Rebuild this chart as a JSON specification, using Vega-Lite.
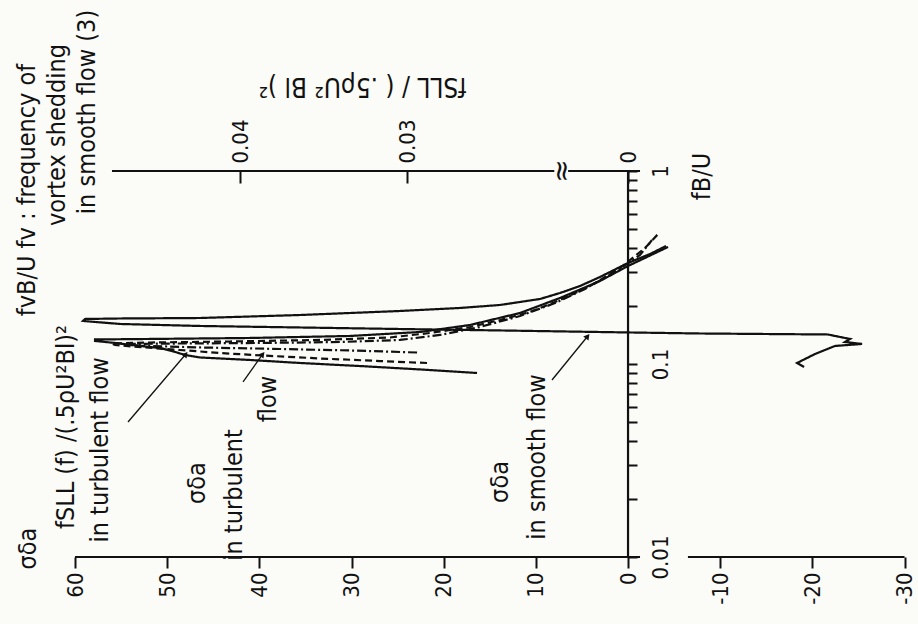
{
  "$schema": "https://vega.github.io/schema/vega-lite/v6.json",
  "width": 918,
  "height": 557,
  "autosize": {"type": "none"},
  "padding": {"left": 0, "top": 0, "right": 0, "bottom": 67},
  "background": "#fbfbf8",
  "config": {
    "view": {"stroke": null},
    "font": "DejaVu Sans Condensed",
    "axis": {
      "grid": false, "domain": false, "labelOverlap": false, "labelFlush": false, "labelBound": false,
      "tickColor": "#111", "labelColor": "#111", "titleColor": "#111", "tickWidth": 2,
      "labelFontSize": 22, "titleFontSize": 25, "titleFontWeight": "normal", "labelFont": "DejaVu Sans Condensed", "titleFont": "DejaVu Sans Condensed"
    }
  },
  "datasets": {
    "curves": [
      {"s":"smooth","i":1,"v":-19.10,"f":0.0965},{"s":"smooth","i":2,"v":-18.34,"f":0.1012},{"s":"smooth","i":3,"v":-19.20,"f":0.1061},{"s":"smooth","i":4,"v":-20.29,"f":0.1127},{"s":"smooth","i":5,"v":-21.37,"f":0.1182},{"s":"smooth","i":6,"v":-22.46,"f":0.1240},{"s":"smooth","i":7,"v":-25.39,"f":0.1270},{"s":"smooth","i":8,"v":-23.54,"f":0.1300},{"s":"smooth","i":9,"v":-24.09,"f":0.1348},{"s":"smooth","i":10,"v":-22.46,"f":0.1397},{"s":"smooth","i":11,"v":-21.70,"f":0.1422},{"s":"smooth","i":12,"v":-7.81,"f":0.1439},{"s":"smooth","i":13,"v":0,"f":0.1457},{"s":"smooth","i":14,"v":13.89,"f":0.1492},{"s":"smooth","i":15,"v":24.74,"f":0.1518},{"s":"smooth","i":16,"v":35.59,"f":0.1546},{"s":"smooth","i":17,"v":46.44,"f":0.1574},{"s":"smooth","i":18,"v":55.12,"f":0.1612},{"s":"smooth","i":19,"v":59.13,"f":0.1671},{"s":"smooth","i":20,"v":58.92,"f":0.1711},{"s":"smooth","i":21,"v":55.12,"f":0.1721},{"s":"smooth","i":22,"v":46.44,"f":0.1731},{"s":"smooth","i":23,"v":35.59,"f":0.1794},{"s":"smooth","i":24,"v":24.74,"f":0.1882},{"s":"smooth","i":25,"v":18.23,"f":0.1951},{"s":"smooth","i":26,"v":13.89,"f":0.2022},{"s":"smooth","i":27,"v":9.55,"f":0.2172},{"s":"smooth","i":28,"v":7.38,"f":0.2333},{"s":"smooth","i":29,"v":5.21,"f":0.2536},{"s":"smooth","i":30,"v":3.04,"f":0.2824},{"s":"smooth","i":31,"v":0,"f":0.3337},{"s":"smooth","i":32,"v":-2.39,"f":0.3715},{"s":"smooth","i":33,"v":-4.12,"f":0.4087},
      {"s":"fsll","i":1,"v":16.38,"f":0.0898},{"s":"fsll","i":2,"v":22.57,"f":0.0937},{"s":"fsll","i":3,"v":29.08,"f":0.0976},{"s":"fsll","i":4,"v":35.59,"f":0.1012},{"s":"fsll","i":5,"v":41.01,"f":0.1049},{"s":"fsll","i":6,"v":46.44,"f":0.1081},{"s":"fsll","i":7,"v":48.06,"f":0.1113},{"s":"fsll","i":8,"v":49.48,"f":0.1168},{"s":"fsll","i":9,"v":50.78,"f":0.1210},{"s":"fsll","i":10,"v":52.95,"f":0.1240},{"s":"fsll","i":11,"v":55.66,"f":0.1285},{"s":"fsll","i":12,"v":57.83,"f":0.1316},{"s":"fsll","i":13,"v":57.83,"f":0.1340},{"s":"fsll","i":14,"v":51.86,"f":0.1348},{"s":"fsll","i":15,"v":41.01,"f":0.1364},{"s":"fsll","i":16,"v":30.16,"f":0.1397},{"s":"fsll","i":17,"v":22.57,"f":0.1465},{"s":"fsll","i":18,"v":17.14,"f":0.1593},{"s":"fsll","i":19,"v":11.72,"f":0.1838},{"s":"fsll","i":20,"v":7.38,"f":0.2198},{"s":"fsll","i":21,"v":3.04,"f":0.2692},{"s":"fsll","i":22,"v":0,"f":0.3220},{"s":"fsll","i":23,"v":-4.34,"f":0.4039},
      {"s":"dash","i":1,"v":21.81,"f":0.1012},{"s":"dash","i":2,"v":26.91,"f":0.1036},{"s":"dash","i":3,"v":33.42,"f":0.1068},{"s":"dash","i":4,"v":39.71,"f":0.1107},{"s":"dash","i":5,"v":44.27,"f":0.1140},{"s":"dash","i":6,"v":48.61,"f":0.1182},{"s":"dash","i":7,"v":52.41,"f":0.1218},{"s":"dash","i":8,"v":55.66,"f":0.1254},{"s":"dash","i":9,"v":55.99,"f":0.1277},{"s":"dash","i":10,"v":51.86,"f":0.1292},{"s":"dash","i":11,"v":43.18,"f":0.1308},{"s":"dash","i":12,"v":33.42,"f":0.1332},{"s":"dash","i":13,"v":25.82,"f":0.1372},{"s":"dash","i":14,"v":21.48,"f":0.1448},{"s":"dash","i":15,"v":17.14,"f":0.1555},{"s":"dash","i":16,"v":13.89,"f":0.1690},{"s":"dash","i":17,"v":10.63,"f":0.1860},{"s":"dash","i":18,"v":7.38,"f":0.2146},{"s":"dash","i":19,"v":4.12,"f":0.2536},{"s":"dash","i":20,"v":0.87,"f":0.3144},{"s":"dash","i":21,"v":-1.84,"f":0.3990},{"s":"dash","i":22,"v":-3.47,"f":0.4830},
      {"s":"dashdot","i":1,"v":22.89,"f":0.1147},{"s":"dashdot","i":2,"v":30.16,"f":0.1175},{"s":"dashdot","i":3,"v":37.76,"f":0.1196},{"s":"dashdot","i":4,"v":46.44,"f":0.1218},{"s":"dashdot","i":5,"v":51.86,"f":0.1240},{"s":"dashdot","i":6,"v":54.25,"f":0.1254},{"s":"dashdot","i":7,"v":54.25,"f":0.1270},{"s":"dashdot","i":8,"v":48.61,"f":0.1277},{"s":"dashdot","i":9,"v":39.93,"f":0.1285},{"s":"dashdot","i":10,"v":31.25,"f":0.1300},{"s":"dashdot","i":11,"v":24.74,"f":0.1332},{"s":"dashdot","i":12,"v":20.40,"f":0.1414},{"s":"dashdot","i":13,"v":16.06,"f":0.1555},{"s":"dashdot","i":14,"v":11.72,"f":0.1773},{"s":"dashdot","i":15,"v":7.92,"f":0.2070},{"s":"dashdot","i":16,"v":4.67,"f":0.2447},{"s":"dashdot","i":17,"v":1.41,"f":0.2997},{"s":"dashdot","i":18,"v":-1.30,"f":0.3671},{"s":"dashdot","i":19,"v":-2.60,"f":0.4391}
    ],
    "axislines": [
      {"x1":60,"x2":-1.3,"y1":0.01,"y2":0.01},
      {"x1":-6.5,"x2":-30,"y1":0.01,"y2":0.01},
      {"x1":0,"x2":0,"y1":0.01,"y2":1},
      {"x1":55.99,"x2":8.0,"y1":1,"y2":1},
      {"x1":6.5,"x2":-1.3,"y1":1,"y2":1}
    ],
    "labels": [
      {"t":"fvB/U  fv : frequency of","v":65.21,"f":0.797},
      {"t":"vortex shedding","v":61.95,"f":1.537},
      {"t":"in smooth flow (3)","v":58.70,"f":2.022},
      {"t":"fSLL (f) /(.5ρU²Bl)²","v":60.98,"f":0.04716},
      {"t":"in turbulent flow","v":57.29,"f":0.03584},
      {"t":"σδa","v":46.76,"f":0.02417},
      {"t":"in turbulent","v":42.75,"f":0.02096},
      {"t":"flow","v":39.06,"f":0.06587},
      {"t":"σδa","v":13.89,"f":0.02447},
      {"t":"in smooth flow","v":9.87,"f":0.03297}
    ],
    "arrows": [
      {"v1":54.25,"f1":0.05006,"v2":48.06,"f2":0.1113},
      {"v1":41.77,"f1":0.0807,"v2":39.71,"f2":0.1113},
      {"v1":8.25,"f1":0.0826,"v2":4.45,"f2":0.1380}
    ],
    "breakmark": [{"t":"≈","v":7.27,"f":1}]
  },
  "layer": [
    {
      "data": {"name": "axislines"},
      "mark": {"type": "rule", "color": "#111", "strokeWidth": 2.2},
      "encoding": {
        "x": {"field": "x1", "type": "quantitative",
          "scale": {"domain": [68.14, -31.46], "nice": false, "zero": false},
          "axis": {"orient": "bottom", "values": [60,50,40,30,20,10,0,-10,-20,-30], "labelExpr": "datum.value + ''", "labelAngle": 270, "labelAlign": "right", "labelBaseline": "middle", "tickSize": 11, "labelPadding": 4,
            "title": "σδa", "titleAngle": 270, "titleX": 27, "titleY": -9, "titleAlign": "center", "titleBaseline": "middle"}},
        "x2": {"field": "x2"},
        "y": {"field": "y1", "type": "quantitative",
          "scale": {"type": "log", "domain": [0.01, 7.69], "nice": false},
          "axis": {"orient": "right", "offset": -290, "values": [0.01,0.02,0.03,0.04,0.05,0.06,0.07,0.08,0.09,0.1,0.2,0.3,0.4,0.5,0.6,0.7,0.8,0.9,1],
            "labelExpr": "datum.value == 0.01 ? '0.01' : datum.value == 0.1 ? '0.1' : datum.value == 1 ? '1' : ''",
            "labelAngle": 270, "labelAlign": "center", "labelBaseline": "top", "tickSize": 9, "labelPadding": 13,
            "title": "fB/U", "titleAngle": 270, "titleX": 73, "titleY": 176, "titleAlign": "center", "titleBaseline": "middle"}},
        "y2": {"field": "y2"}
      }
    },
    {
      "data": {"name": "breakmark"},
      "mark": {"type": "text", "angle": 90, "fontSize": 28, "color": "#111", "font": "DejaVu Sans"},
      "encoding": {
        "x": {"field": "v", "type": "quantitative",
          "axis": {"orient": "top", "offset": -171, "values": [42.1, 23.98, 0],
            "labelExpr": "datum.value > 40 ? '0.04' : datum.value > 20 ? '0.03' : '0'",
            "labelAngle": 270, "labelAlign": "left", "labelBaseline": "middle", "tickSize": -12, "labelPadding": 20,
            "title": "fSLL / ( .5ρU² Bl )²", "titleFontSize": 26, "titleAngle": 180, "titleX": 362, "titleY": -86, "titleAlign": "center", "titleBaseline": "middle"}},
        "y": {"field": "f", "type": "quantitative", "axis": null},
        "text": {"field": "t"}
      }
    },
    {
      "data": {"name": "curves"},
      "mark": {"type": "line", "color": "#111", "strokeWidth": 2.2},
      "encoding": {
        "x": {"field": "v", "type": "quantitative", "axis": null},
        "y": {"field": "f", "type": "quantitative", "axis": null},
        "detail": {"field": "s"},
        "order": {"field": "i", "type": "quantitative"},
        "strokeDash": {"field": "s", "type": "nominal", "legend": null,
          "scale": {"domain": ["smooth", "fsll", "dash", "dashdot"], "range": [[1, 0], [1, 0], [7, 4], [9, 3, 2, 3]]}}
      }
    },
    {
      "data": {"name": "labels"},
      "mark": {"type": "text", "angle": 270, "fontSize": 25, "color": "#111", "align": "center", "baseline": "middle"},
      "encoding": {
        "x": {"field": "v", "type": "quantitative", "axis": null},
        "y": {"field": "f", "type": "quantitative", "axis": null},
        "text": {"field": "t"}
      }
    },
    {
      "data": {"name": "arrows"},
      "mark": {"type": "rule", "color": "#111", "strokeWidth": 1.3},
      "encoding": {
        "x": {"field": "v1", "type": "quantitative", "axis": null},
        "x2": {"field": "v2"},
        "y": {"field": "f1", "type": "quantitative", "axis": null},
        "y2": {"field": "f2"}
      }
    },
    {
      "data": {"name": "arrows"},
      "mark": {"type": "point", "shape": "triangle", "filled": true, "color": "#111", "size": 45, "angle": 38, "opacity": 1},
      "encoding": {
        "x": {"field": "v2", "type": "quantitative", "axis": null},
        "y": {"field": "f2", "type": "quantitative", "axis": null}
      }
    }
  ],
  "resolve": {"axis": {"x": "independent", "y": "independent"}}
}
